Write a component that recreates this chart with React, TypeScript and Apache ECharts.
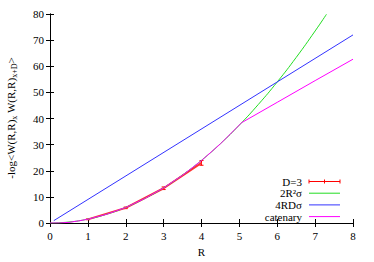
import React, { useEffect, useRef } from "react";
import * as echarts from "echarts";

const xTicks = [0, 1, 2, 3, 4, 5, 6, 7, 8];
const yTicks = [0, 10, 20, 30, 40, 50, 60, 70, 80];

// D=3 measured data: [R, value, error]
const dataR = [1, 2, 3, 4];
const dataV = [1.4, 5.8, 13.3, 23.0];
const dataErr = [0.15, 0.3, 0.5, 0.9];

// 2R^2 sigma
const greenR = [0, 0.5, 1, 1.5, 2, 2.5, 3, 3.5, 4, 4.5, 5, 5.5, 6, 6.5, 7, 7.3];
const greenV = [0, 0.375, 1.5, 3.375, 6, 9.375, 13.5, 18.375, 24, 30.375, 37.5, 45.375, 54, 63.375, 73.5, 79.9];

// 4RD sigma
const blueR = [0.1, 8];
const blueV = [0.9, 72];

// catenary
const pinkR = [0, 0.25, 0.5, 0.75, 1, 1.5, 2, 2.5, 3, 3.5, 4, 4.5, 5.06, 6, 7, 8];
const pinkV = [0, 0.02, 0.25, 0.8, 1.45, 3.35, 5.95, 9.35, 13.45, 18.3, 23.9, 30.3, 38.4, 46.2, 54.5, 62.7];

const legendLabels = ["D=3", "2R²σ", "4RDσ", "catenary"];
const legendColors = ["#ff0000", "#22dd22", "#3333ff", "#ff00ff"];

const FONT = "Liberation Serif, Times New Roman, DejaVu Serif, serif";

export default function App() {
  const ref = useRef<HTMLDivElement>(null);
  useEffect(() => {
    if (!ref.current) return;
    const chart = echarts.init(ref.current, undefined, { renderer: "svg" });
    const zip = (a: number[], b: number[]) => a.map((v, i) => [v, b[i]]);
    const axisCommon = {
      min: 0,
      axisLine: { show: true, lineStyle: { color: "#000", width: 1 } },
      axisTick: { show: true, inside: true, length: 4, lineStyle: { color: "#000" } },
      splitLine: { show: false },
    };
    const legendX1 = 302;
    const lx0 = 309;
    const lx1 = 340;
    const rowsY = [181.5, 193.2, 204.9, 216.6];
    const graphics: any[] = [];
    legendLabels.forEach((lab, i) => {
      graphics.push({
        type: "text",
        x: legendX1,
        y: rowsY[i],
        style: {
          text: lab,
          fill: "#000",
          fontFamily: FONT,
          fontSize: 11,
          textAlign: "right",
          textVerticalAlign: "middle",
        },
      });
      graphics.push({
        type: "line",
        shape: { x1: lx0, y1: rowsY[i], x2: lx1, y2: rowsY[i] },
        style: { stroke: legendColors[i], lineWidth: 1 },
      });
    });
    [lx0, (lx0 + lx1) / 2, lx1].forEach((x) => {
      graphics.push({
        type: "line",
        shape: { x1: x, y1: rowsY[0] - 2, x2: x, y2: rowsY[0] + 2 },
        style: { stroke: legendColors[0], lineWidth: 1 },
      });
    });
    graphics.push({
      type: "text",
      x: 11,
      y: 118,
      rotation: Math.PI / 2,
      style: {
        text: "-log<W(R,R){s|x} W(R,R){s|x+D}>",
        rich: {
          s: { fontFamily: FONT, fontSize: 8, fill: "#000", verticalAlign: "bottom", lineHeight: 8 },
        },
        fontFamily: FONT,
        fontSize: 11,
        lineHeight: 15,
        fill: "#000",
        textAlign: "center",
        textVerticalAlign: "middle",
      },
    });

    const labelStyle = {
      color: "#000",
      fontFamily: FONT,
      fontSize: 11,
    };

    chart.setOption({
      animation: false,
      textStyle: { fontFamily: FONT },
      grid: { left: 50, right: 21, top: 14, bottom: 38, containLabel: false },
      xAxis: [
        {
          ...axisCommon,
          type: "value",
          max: 8,
          interval: 1,
          name: "R",
          nameLocation: "middle",
          nameGap: 23,
          nameTextStyle: { ...labelStyle },
          axisLabel: {
            ...labelStyle,
            margin: 7,
            formatter: (v: number) => String(xTicks.includes(v) ? v : ""),
          },
        },
        {
          ...axisCommon,
          type: "value",
          position: "top",
          max: 8,
          interval: 1,
          axisLabel: { show: false },
        },
      ],
      yAxis: [
        {
          ...axisCommon,
          type: "value",
          max: 80,
          interval: 10,
          axisLabel: {
            ...labelStyle,
            margin: 6,
            formatter: (v: number) => String(yTicks.includes(v) ? v : ""),
          },
        },
        {
          ...axisCommon,
          type: "value",
          position: "right",
          max: 80,
          interval: 10,
          axisLabel: { show: false },
        },
      ],
      graphic: graphics,
      series: [
        {
          name: "D=3",
          type: "line",
          data: zip(dataR, dataV),
          symbol: "none",
          lineStyle: { color: "#ff3030", width: 2 },
          z: 2,
        },
        {
          name: "D=3 err",
          type: "custom",
          data: dataR.map((r, i) => [r, dataV[i], dataErr[i]]),
          renderItem: (params: any, api: any) => {
            const x = api.value(0);
            const y = api.value(1);
            const e = api.value(2);
            const lo = api.coord([x, y - e]);
            const hi = api.coord([x, y + e]);
            const st = { stroke: "#ff0000", lineWidth: 1 };
            return {
              type: "group",
              children: [
                { type: "line", shape: { x1: lo[0], y1: lo[1], x2: hi[0], y2: hi[1] }, style: st },
                { type: "line", shape: { x1: lo[0] - 2, y1: lo[1], x2: lo[0] + 2, y2: lo[1] }, style: st },
                { type: "line", shape: { x1: hi[0] - 2, y1: hi[1], x2: hi[0] + 2, y2: hi[1] }, style: st },
              ],
            };
          },
          z: 2,
        },
        {
          name: "2R²σ",
          type: "line",
          data: zip(greenR, greenV),
          smooth: true,
          symbol: "none",
          lineStyle: { color: legendColors[1], width: 1 },
          z: 3,
        },
        {
          name: "4RDσ",
          type: "line",
          data: zip(blueR, blueV),
          symbol: "none",
          lineStyle: { color: legendColors[2], width: 1 },
          z: 4,
        },
        {
          name: "catenary",
          type: "line",
          data: zip(pinkR, pinkV),
          symbol: "none",
          lineStyle: { color: legendColors[3], width: 1 },
          z: 5,
        },
      ],
    });
    return () => chart.dispose();
  }, []);
  return (
    <div
      ref={ref}
      style={{ position: "fixed", left: 0, top: 0, width: 374, height: 262, background: "#fff" }}
    />
  );
}
